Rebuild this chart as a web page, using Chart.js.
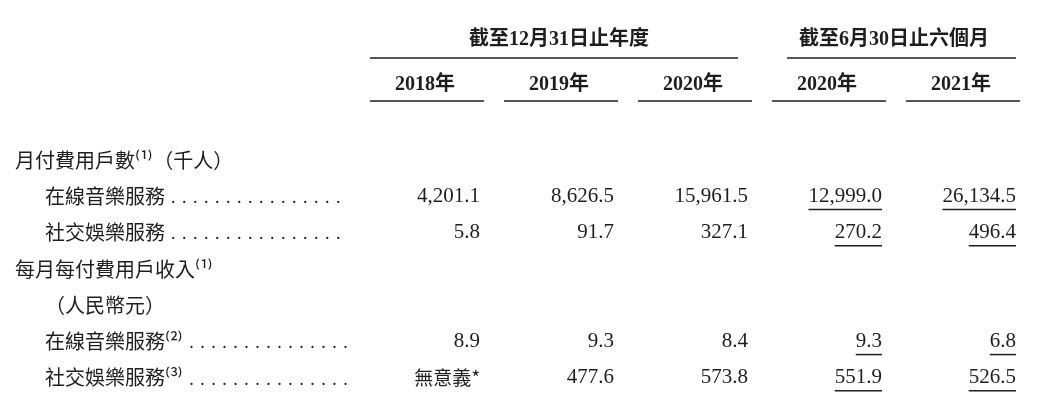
<!DOCTYPE html>
<html>
<head>
<meta charset="utf-8">
<script src="https://cdn.jsdelivr.net/npm/chart.js@4"></script>
<style>
  body { margin: 0; background: #fff; }
  #wrap { width: 1038px; height: 408px; }
</style>
</head>
<body>
<div id="wrap"><canvas id="tbl"></canvas></div>
<script>
// Columns and rows of the table
const columns = ['2018年', '2019年', '2020年', '2020年', '2021年'];
const rowLabels = ['月付費用戶數⁽¹⁾（千人）', '在線音樂服務', '社交娛樂服務', '每月每付費用戶收入⁽¹⁾', '（人民幣元）', '在線音樂服務⁽²⁾', '社交娛樂服務⁽³⁾'];
const rowIndent = [false, true, true, false, true, true, true];
const rowLeader = [false, true, true, false, false, true, true];

// Values as printed, one array per row (null = heading row)
const musicUsers = ['4,201.1', '8,626.5', '15,961.5', '12,999.0', '26,134.5'];
const socialUsers = ['5.8', '91.7', '327.1', '270.2', '496.4'];
const musicArppu = ['8.9', '9.3', '8.4', '9.3', '6.8'];
const socialArppu = ['無意義*', '477.6', '573.8', '551.9', '526.5'];
const rowValues = [null, musicUsers, socialUsers, null, null, musicArppu, socialArppu];

const groupHeaders = ['截至12月31日止年度', '截至6月30日止六個月'];

const INK = '#1e1e1e';
const NUM = '"Liberation Serif", "Noto Sans CJK TC", serif';

const tablePlugin = {
    id: 'tablePlugin',
    afterDraw(chart) {
        const ctx = chart.ctx;
        const xs = chart.scales.x, ys = chart.scales.y;
        const half = xs.width / columns.length / 2;
        ctx.save();
        ctx.fillStyle = INK;
        ctx.strokeStyle = INK;
        ctx.lineWidth = 1.5;
        ctx.textBaseline = 'middle';

        // group headers
        ctx.font = 'bold 20px ' + NUM;
        ctx.textAlign = 'center';
        const g1 = (xs.getPixelForValue(0) + xs.getPixelForValue(2)) / 2;
        const g2 = (xs.getPixelForValue(3) + xs.getPixelForValue(4)) / 2;
        ctx.fillText(groupHeaders[0], g1, 40);
        ctx.fillText(groupHeaders[1], g2, 40);
        line(ctx, xs.getPixelForValue(0) - 55, xs.getPixelForValue(2) + 45, 58);
        line(ctx, xs.getPixelForValue(3) - 40, xs.getPixelForValue(4) + 55, 58);

        // year headers
        columns.forEach((c, i) => {
            const cx = xs.getPixelForValue(i);
            ctx.fillText(c, cx, 85);
            line(ctx, cx - half + 12, cx + half - 8, 101);
        });

        // rows
        rowLabels.forEach((lab, r) => {
            const y = ys.getPixelForValue(r);
            ctx.textAlign = 'left';
            ctx.font = '20px "Noto Sans CJK TC", ' + NUM;
            const x0 = rowIndent[r] ? 45 : 15;
            ctx.fillText(lab, x0, y);
            if (rowLeader[r]) {
                let x = x0 + ctx.measureText(lab).width + 6;
                ctx.font = '18px ' + NUM;
                while (x < 345) { ctx.fillText('.', x, y + 2); x += 11; }
            }
            const vals = rowValues[r];
            if (!vals) return;
            ctx.textAlign = 'right';
            vals.forEach((v, i) => {
                const rx = xs.getPixelForValue(i) + half - 12;
                ctx.font = /\d/.test(v) ? '21px ' + NUM : '19px "Noto Sans CJK TC", serif';
                ctx.fillText(v, rx, y);
                if (i >= 3) {
                    const w = ctx.measureText(v).width;
                    line(ctx, rx - w, rx, y + 13);
                }
            });
        });
        ctx.restore();
    }
};

function line(ctx, x1, x2, y) {
    ctx.beginPath();
    ctx.moveTo(x1, y);
    ctx.lineTo(x2, y);
    ctx.stroke();
}

new Chart(document.getElementById('tbl'), {
    type: 'bar',
    data: { labels: columns, datasets: [] },
    options: {
        responsive: true,
        maintainAspectRatio: false,
        animation: false,
        layout: { padding: { left: 358, right: 10, top: 142, bottom: 12 } },
        plugins: { legend: { display: false }, tooltip: { enabled: false } },
        scales: {
            x: { type: 'category', display: false, offset: true },
            y: { type: 'category', labels: rowLabels, display: false, offset: true }
        }
    },
    plugins: [tablePlugin]
});
</script>
</body>
</html>
